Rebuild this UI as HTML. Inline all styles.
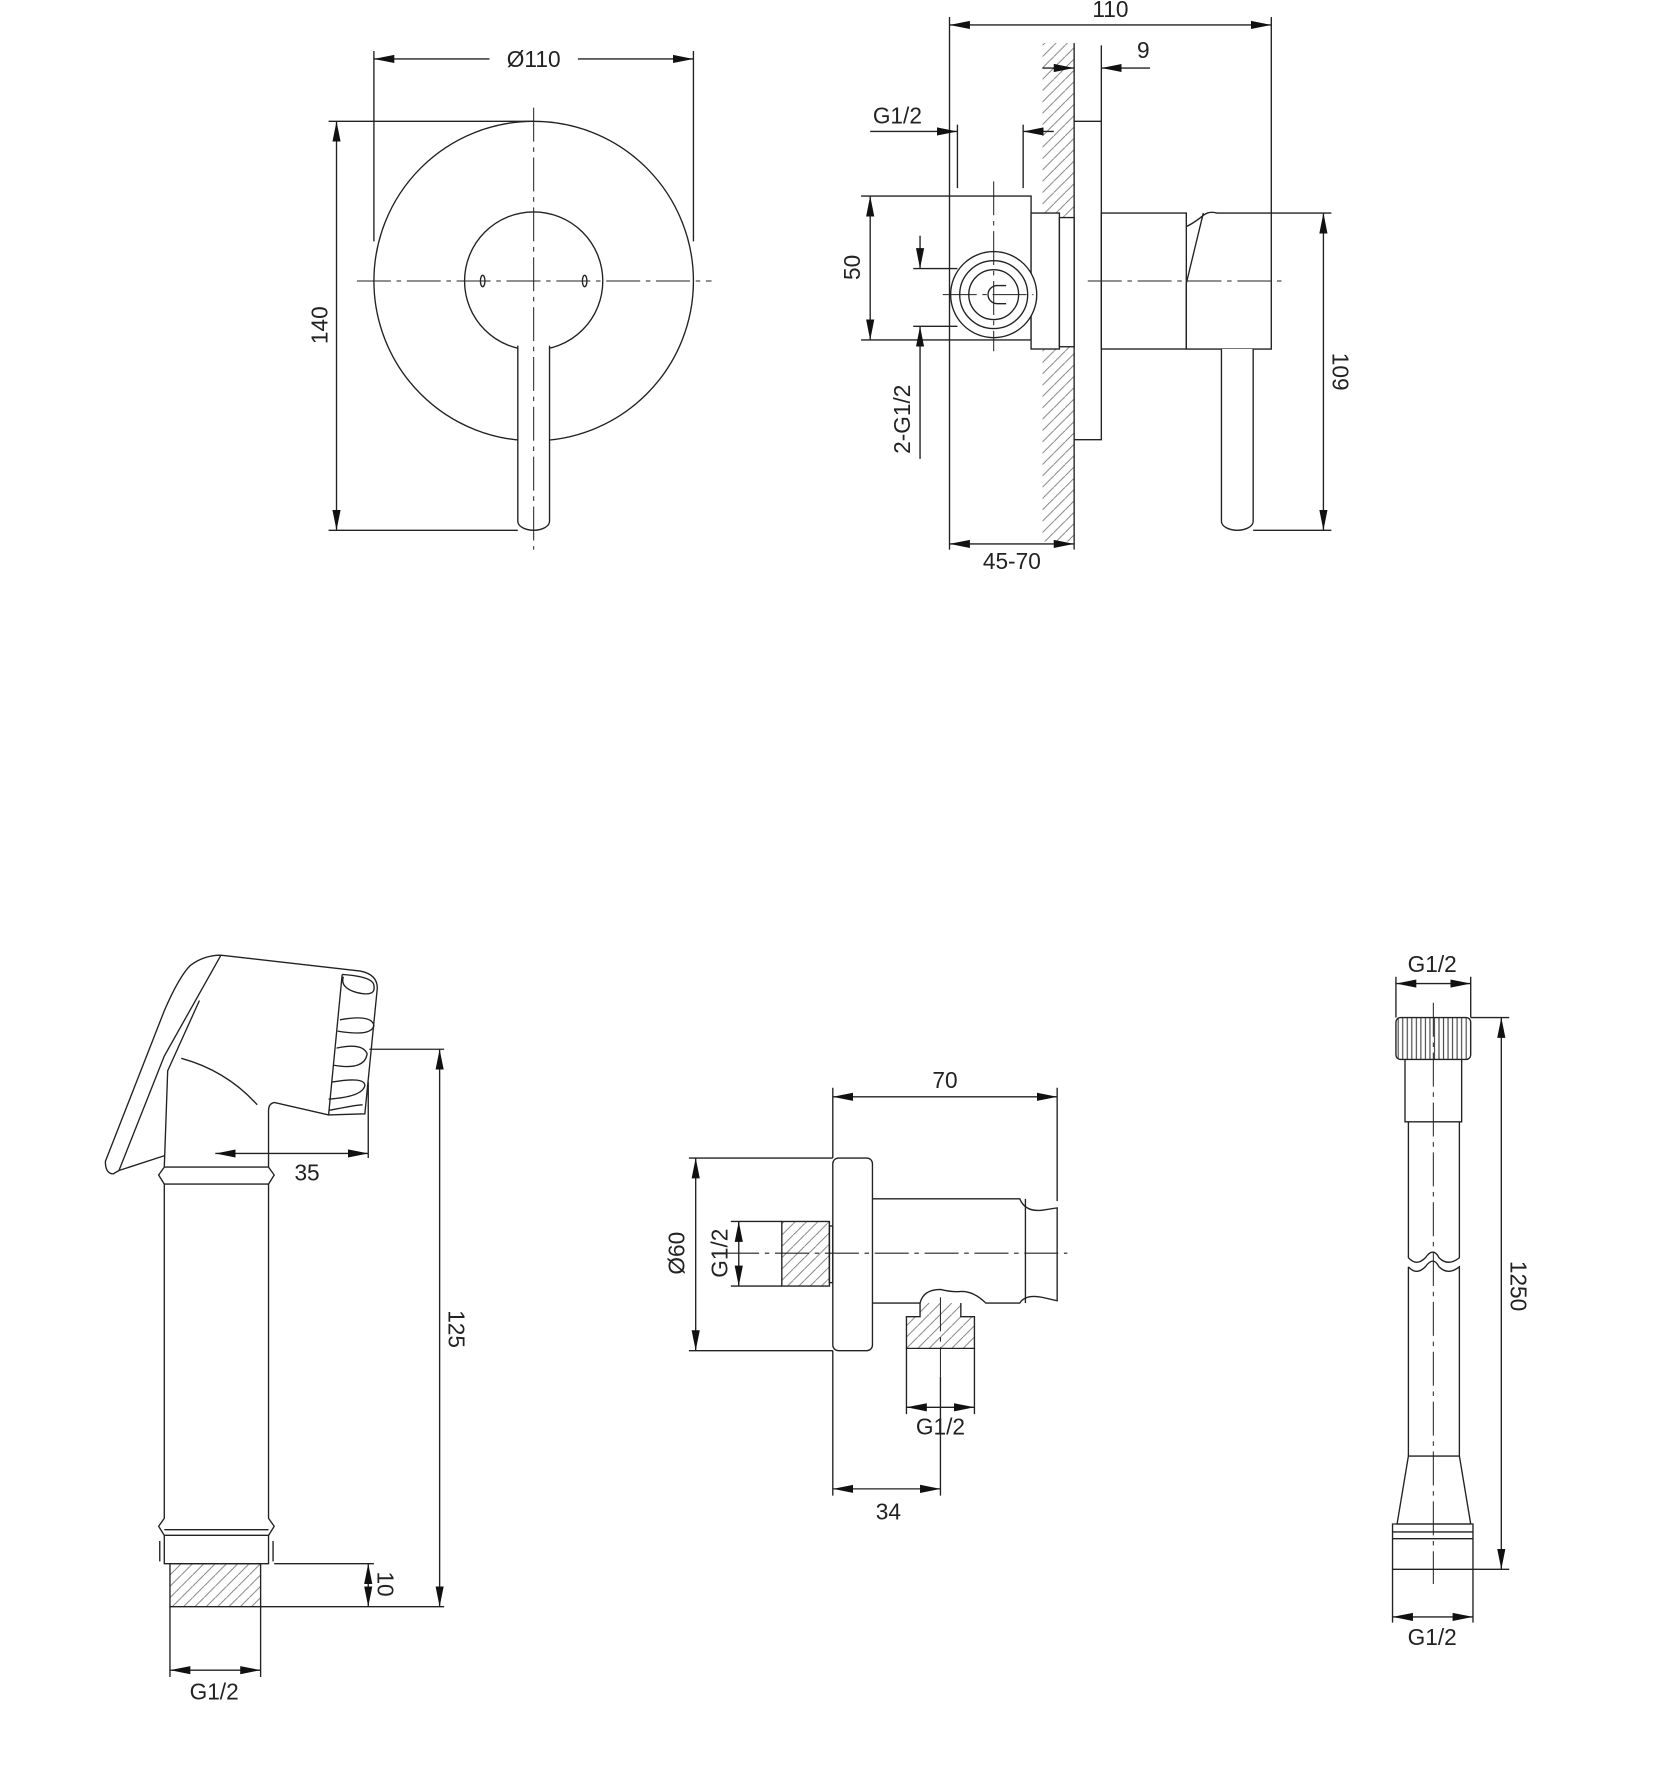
<!DOCTYPE html>
<html><head><meta charset="utf-8"><style>html,body{margin:0;padding:0;background:#fff}svg{display:block}</style></head>
<body>
<svg width="1669" height="1775" viewBox="0 0 1473 1566.5" xmlns="http://www.w3.org/2000/svg" font-family="Liberation Sans, DejaVu Sans, sans-serif" font-size="20" fill="none" stroke="#222" stroke-width="1.2">
<defs>
<marker id="a" viewBox="0 0 10 10" refX="10" refY="5" markerWidth="18" markerHeight="8" markerUnits="userSpaceOnUse" orient="auto-start-reverse" preserveAspectRatio="none"><path d="M0,0.5 L10,5 L0,9.5z" fill="#111" stroke="none"/></marker>
<pattern id="h" width="10" height="10" patternUnits="userSpaceOnUse"><path d="M0,10 L10,0" stroke="#777" stroke-width="0.8"/></pattern>
<pattern id="k" width="4" height="10" patternUnits="userSpaceOnUse"><path d="M2,0 V10" stroke="#444" stroke-width="1"/></pattern>
</defs>
<g fill="#222" stroke="none">
<text x="471" y="59" text-anchor="middle">Ø110</text>
<text transform="translate(289,287) rotate(-90)" text-anchor="middle">140</text>
<text x="980" y="15" text-anchor="middle">110</text>
<text x="1009" y="51" text-anchor="middle">9</text>
<text x="792" y="109" text-anchor="middle">G1/2</text>
<text transform="translate(759,236) rotate(-90)" text-anchor="middle">50</text>
<text transform="translate(803,370) rotate(-90)" text-anchor="middle">2-G1/2</text>
<text transform="translate(1176,328) rotate(90)" text-anchor="middle">109</text>
<text x="893" y="502" text-anchor="middle">45-70</text>
<text x="271" y="1042" text-anchor="middle">35</text>
<text transform="translate(396,1173) rotate(90)" text-anchor="middle">125</text>
<text transform="translate(333,1398) rotate(90)" text-anchor="middle">10</text>
<text x="189" y="1500" text-anchor="middle">G1/2</text>
<text x="834" y="960" text-anchor="middle">70</text>
<text transform="translate(604,1106) rotate(-90)" text-anchor="middle">Ø60</text>
<text transform="translate(642,1106) rotate(-90)" text-anchor="middle">G1/2</text>
<text x="830" y="1266" text-anchor="middle">G1/2</text>
<text x="784" y="1341" text-anchor="middle">34</text>
<text x="1264" y="858" text-anchor="middle">G1/2</text>
<text transform="translate(1333,1135) rotate(90)" text-anchor="middle">1250</text>
<text x="1264" y="1452" text-anchor="middle">G1/2</text>
</g>

<!-- Top-left front view -->
<circle cx="471" cy="248" r="141"/>
<circle cx="471" cy="248" r="61"/>
<path d="M457,305 V460 A14,8 0 0 0 485,460 V305" fill="#fff"/>
<ellipse cx="426" cy="248" rx="2" ry="5"/><ellipse cx="516" cy="248" rx="2" ry="5"/>
<path d="M315,248 H628 M471,95 V485" stroke-dasharray="30,5,4,5" stroke-width="0.9"/>
<path d="M330,45 V213 M612,45 V213"/>
<path d="M330,52 H432" marker-start="url(#a)"/><path d="M510,52 H612" marker-end="url(#a)"/>
<path d="M290,107 H471 M290,468 H457"/>
<path d="M297,107 V468" marker-start="url(#a)" marker-end="url(#a)"/>

<!-- Top-right side view -->
<rect x="920" y="38" width="28" height="440" fill="url(#h)" stroke="none"/>
<path d="M948,38 V478"/>
<path d="M972,40 V388 H948 M948,107 H972"/>
<rect x="838" y="173" width="72" height="127" fill="#fff"/>
<rect x="910" y="188" width="25" height="120" fill="#fff"/>
<rect x="935" y="192" width="13" height="114" fill="#fff"/>
<rect x="972" y="188" width="75" height="120" fill="#fff"/>
<path d="M1047,308 V250 L1062,188 M1062,190 Q1067,186 1074,188 H1122 V308 H1047" fill="#fff"/>
<path d="M1047,200 Q1055,196 1062,190"/>
<path d="M1078,308 V460 A14,8 0 0 0 1106,460 V308" fill="#fff"/>
<circle cx="877" cy="260" r="38" fill="#fff"/><circle cx="877" cy="260" r="30"/><circle cx="877" cy="260" r="22"/>
<path d="M880,252 H888 M880,268 H888 M880,252 A8,8 0 0 0 880,268"/>
<path d="M832,260 H912 M877,160 V310 M960,248 H1136" stroke-dasharray="30,5,4,5" stroke-width="0.9"/>
<path d="M838,15 V173 M1122,15 V188"/>
<path d="M838,22 H1122" marker-start="url(#a)" marker-end="url(#a)"/>
<path d="M920,60 H948" marker-end="url(#a)"/><path d="M1015,60 H972" marker-end="url(#a)"/>
<path d="M845,110 V166 M903,110 V166"/>
<path d="M768,116 H845" marker-end="url(#a)"/><path d="M930,116 H903" marker-end="url(#a)"/>
<path d="M760,173 H838 M760,300 H838"/>
<path d="M768,173 V300" marker-start="url(#a)" marker-end="url(#a)"/>
<path d="M806,237 H845 M806,288 H845"/>
<path d="M812,208 V237" marker-end="url(#a)"/><path d="M812,405 V288" marker-end="url(#a)"/>
<path d="M1122,188 H1175 M1106,468 H1175"/>
<path d="M1168,188 V468" marker-start="url(#a)" marker-end="url(#a)"/>
<path d="M838,300 V485 M948,478 V485"/>
<path d="M838,480 H948" marker-start="url(#a)" marker-end="url(#a)"/>

<!-- Hand shower -->
<path d="M195,843 L318,857 Q333,860 333,872 L322,983 L290,984 L242,973 Q237,974 237,980 V1030 M145,1030 L148,945 L176,883" />
<path d="M195,843 Q180,843 168,852 Q158,862 145,892 L93,1025 Q93,1036 100,1036 L105,1033 L145,1020 M195,843 L145,932 L105,1033"/>
<path d="M160,934 Q200,945 227,975"/>
<path d="M302,860 L290,984 M302,860 Q330,862 330,870 Q332,880 315,876 Q300,872 303,862 M300,900 Q328,895 330,905 Q328,915 298,910 M297,925 Q320,920 324,930 Q322,945 294,940 M293,955 Q322,950 322,958 Q320,968 290,970 M290,980 Q315,975 320,975"/>
<path d="M145,1030 H237 M145,1030 L140,1037 L145,1045 V1340 L140,1347 L145,1355 M237,1030 L242,1037 L237,1045 V1340 L242,1347 L237,1355 M145,1045 H237 M145,1350 H237"/>
<path d="M145,1355 H237 V1380 H145Z M141,1360 V1378 M241,1360 V1378"/>
<path d="M150,1380 H230 V1418 H150Z" fill="url(#h)"/>
<path d="M326,926 H392 M242,1380 H330 M230,1418 H392"/>
<path d="M388,926 V1418" marker-start="url(#a)" marker-end="url(#a)"/>
<path d="M325,955 V1022"/>
<path d="M190,1018 H325" marker-start="url(#a)" marker-end="url(#a)"/>
<path d="M325,1380 V1418" marker-start="url(#a)" marker-end="url(#a)"/>
<path d="M150,1418 V1480 M230,1418 V1480"/>
<path d="M150,1474 H230" marker-start="url(#a)" marker-end="url(#a)"/>

<!-- Holder -->
<rect x="735" y="1022" width="35" height="170" rx="5" fill="#fff"/>
<rect x="690" y="1078" width="42" height="57" fill="url(#h)"/>
<rect x="732" y="1082" width="3" height="50"/>
<path d="M770,1058 H900 Q905,1070 920,1068 L933,1066 V1148 L920,1145 Q905,1142 900,1150 H870 Q858,1138 845,1140 Q838,1140 830,1138 Q815,1138 812,1150 H770"/>
<path d="M905,1058 V1150"/>
<path d="M812,1150 V1162 H800 V1190 H860 V1162 H848 V1150" fill="url(#h)"/>
<path d="M640,1106 H942 M830,1145 V1215" stroke-dasharray="30,5,4,5" stroke-width="0.9"/>
<path d="M735,960 V1022 M933,960 V1060"/>
<path d="M735,968 H933" marker-start="url(#a)" marker-end="url(#a)"/>
<path d="M608,1022 H735 M608,1192 H735"/>
<path d="M614,1022 V1192" marker-start="url(#a)" marker-end="url(#a)"/>
<path d="M645,1078 H690 M645,1135 H690"/>
<path d="M652,1078 V1135" marker-start="url(#a)" marker-end="url(#a)"/>
<path d="M800,1190 V1248 M860,1190 V1248"/>
<path d="M800,1242 H860" marker-start="url(#a)" marker-end="url(#a)"/>
<path d="M735,1192 V1320 M830,1215 V1320"/>
<path d="M735,1314 H830" marker-start="url(#a)" marker-end="url(#a)"/>

<!-- Hose -->
<rect x="1232" y="898" width="66" height="37" rx="4" fill="url(#k)"/>
<path d="M1240,935 V990 H1290 V935"/>
<path d="M1243,990 V1110 Q1250,1118 1258,1110 Q1265,1100 1270,1110 Q1278,1118 1288,1110 V990 M1243,1118 Q1250,1126 1258,1118 Q1265,1108 1270,1118 Q1278,1126 1288,1118 V1285 M1243,1118 V1285"/>
<path d="M1243,1285 H1288 L1298,1345 H1233Z"/>
<path d="M1229,1345 H1300 V1385 H1229Z M1229,1352 H1300 M1229,1358 H1300"/>
<path d="M1265,885 V1398" stroke-dasharray="30,5,4,5" stroke-width="0.9"/>
<path d="M1232,862 V898 M1298,862 V898"/>
<path d="M1232,868 H1298" marker-start="url(#a)" marker-end="url(#a)"/>
<path d="M1298,898 H1332 M1300,1385 H1332"/>
<path d="M1325,898 V1385" marker-start="url(#a)" marker-end="url(#a)"/>
<path d="M1229,1385 V1432 M1300,1385 V1432"/>
<path d="M1229,1427 H1300" marker-start="url(#a)" marker-end="url(#a)"/>
</svg>
</body></html>
